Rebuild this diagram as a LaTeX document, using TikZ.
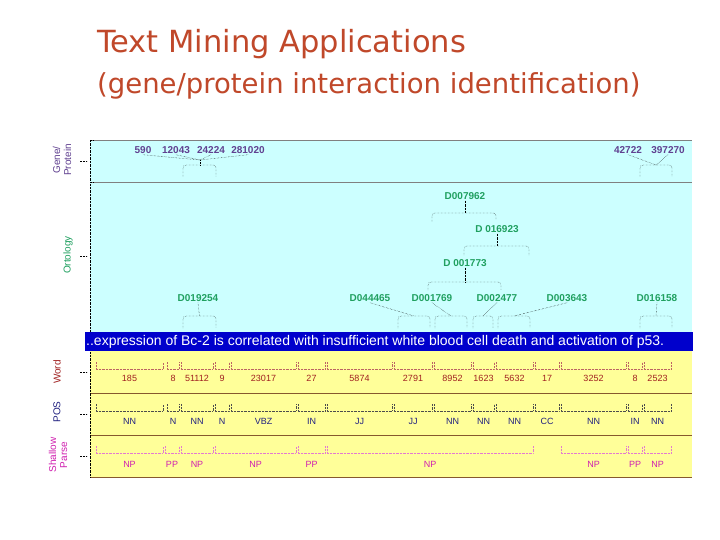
\documentclass[tikz,border=0pt]{standalone}
\usepackage{fontspec}
\setmainfont{Liberation Sans}
\newfontfamily\titlefont{DejaVu Sans}
\begin{document}
\begin{tikzpicture}[x=1pt,y=-1pt,
  ttl/.style={anchor=base west,text=titlec,inner sep=0},
  ont/.style={text=ontc,font=\bfseries\fontsize{10}{11}\selectfont,inner sep=1pt},
  gen/.style={text=genc,font=\bfseries\fontsize{10}{11}\selectfont,inner sep=1pt},
  lnk/.style={densely dotted,thin},
  wrd/.style={text=wordc,font=\fontsize{9}{10}\selectfont,inner sep=0},
  postag/.style={text=posc,font=\fontsize{9}{10}\selectfont,inner sep=0},
  prs/.style={text=prsc,font=\fontsize{9}{10}\selectfont,inner sep=0},
  side/.style={rotate=90,font=\fontsize{10}{11}\selectfont,align=center,inner sep=0}]
\definecolor{titlec}{HTML}{C0482A}
\definecolor{ontc}{HTML}{20A060}
\definecolor{genc}{HTML}{604090}
\definecolor{wordc}{HTML}{A02020}
\definecolor{posc}{HTML}{202080}
\definecolor{prsc}{HTML}{D020B0}
\definecolor{cyanbg}{HTML}{CCFFFF}
\definecolor{yelbg}{HTML}{FFFF99}
\definecolor{barc}{HTML}{0000CC}
\useasboundingbox (0,0) rectangle (720,540);
\fill[white] (0,0) rectangle (720,540);
% title
\node[ttl,font=\titlefont\fontsize{30.5}{34}\selectfont] (t1) at (97,53) {Text Mining Applications};
\node[ttl,font=\titlefont\fontsize{27.5}{31}\selectfont] (t2) at (97,94) {(gene/protein interaction identification)};
% panels
\fill[cyanbg] (90,140) rectangle (692,334);
\draw[gray,thick] (90,140) -- (692,140);
\draw[gray,thick] (90,182) -- (692,182);
\draw[densely dotted] (93,182) -- (90,182) -- (90,140) -- (93,140);
\draw[densely dotted] (90,184) -- (90,333);
\fill[yelbg] (90,351) rectangle (692,478);
\foreach \y in {393,435,477} \draw[brown!70!black] (90,\y) -- (692,\y);
\draw[densely dotted] (90,352) -- (90,477);
\node[fill=barc,minimum width=608pt,minimum height=19pt,inner sep=0,anchor=north west] (bar) at (85,332) {};
\node[anchor=west,text=white,font=\fontsize{14}{16}\selectfont,inner sep=0] (sent) at (86,341.5) {..expression of Bc-2 is correlated with insufficient white blood cell death and activation of p53.};
% side labels
\node[side,text=genc] (lg) at (62,160) {Gene/\\Protein};
\node[side,text=ontc] (lo) at (68,255) {Ortology};
\node[side,text=wordc] (lw) at (57,372) {Word};
\node[side,text=posc] (lp) at (57,412) {POS};
\node[side,text=prsc] (ls) at (58,455) {Shallow\\Parse};
\foreach \y in {161,256,372,414,456} \draw[densely dotted] (80,\y) -- (87,\y);
% token rows
\foreach \a/\b/\w/\p in {95/164/185/NN,166/180/8/N,180/214/51112/NN,214/230/9/N,230/297/23017/VBZ,297/326/27/IN,326/393/5874/JJ,393/433/2791/JJ,433/472/8952/NN,472/495/1623/NN,495/534/5632/NN,534/560/17/CC,560/627/3252/NN,627/643/8/IN,643/672/2523/NN}{
  \draw[densely dotted,wordc!70] (\a+1,362) -- (\a+1,369) -- (\b-1,369) -- (\b-1,362);
  \node[wrd] at ({(\a+\b)/2},378) {\w};
  \draw[densely dotted,black!70] (\a+1,404) -- (\a+1,411) -- (\b-1,411) -- (\b-1,404);
  \node[postag] at ({(\a+\b)/2},421) {\p};
}
\foreach \a/\b/\p in {95/164/NP,164/180/PP,180/214/NP,214/297/NP,297/326/PP,326/534/NP,560/627/NP,627/643/PP,643/672/NP}{
  \draw[densely dotted,prsc!60] (\a+1,446) -- (\a+1,453) -- (\b-1,453) -- (\b-1,446);
  \node[prs] at ({(\a+\b)/2},464) {\p};
}
% gene brackets
\draw[lnk,rounded corners=3pt] (183,177) -- (183,165) -- (216,165) -- (216,177);
\draw[lnk] (200,165) -- (200,160);
\coordinate (gc1) at (200,160);
\node[gen] (g1) at (143,150) {590};
\node[gen] (g2) at (176,150) {12043};
\node[gen] (g3) at (211,150) {24224};
\node[gen] (g4) at (248,150) {281020};
\foreach \g in {g1,g2,g3,g4} \draw[lnk] (\g.south) -- (gc1);
\draw[lnk,rounded corners=3pt] (640,177) -- (640,165) -- (672,165) -- (672,177);
\coordinate (gc2) at (656,165);
\node[gen] (g5) at (628,150) {42722};
\node[gen] (g6) at (668,150) {397270};
\draw[lnk] (g5.south) -- (gc2);
\draw[lnk] (g6.south) -- (gc2);
% ontology tree
\node[ont] (o1) at (465,196) {D007962};
\node[ont] (o2) at (497,229) {D 016923};
\node[ont] (o3) at (465,263) {D 001773};
\draw[lnk,rounded corners=3pt] (432,222) -- (432,213) -- (496,213) -- (496,220);
\draw[lnk] (o1.south) -- (465,213);
\draw[lnk,rounded corners=3pt] (464,255) -- (464,246) -- (529,246) -- (529,255);
\draw[lnk] (o2.south) -- (497,246);
\draw[lnk,rounded corners=3pt] (428,290) -- (428,282) -- (501,282) -- (501,290);
\draw[lnk] (o3.south) -- (465,282);
\foreach \n/\lx/\a/\b in {l1/198/183/216,l2/370/398/430,l3/432/435/467,l4/497/473/493,l5/567/498/530,l6/657/640/672}{
  \draw[lnk,rounded corners=3pt] (\a,328) -- (\a,316) -- (\b,316) -- (\b,328);
  \coordinate (\n c) at ({(\a+\b)/2},316);
}
\node[ont] (l1) at (198,298) {D019254};
\node[ont] (l2) at (370,298) {D044465};
\node[ont] (l3) at (432,298) {D001769};
\node[ont] (l4) at (497,298) {D002477};
\node[ont] (l5) at (567,298) {D003643};
\node[ont] (l6) at (657,298) {D016158};
\foreach \n in {l1,l2,l3,l4,l5,l6} \draw[lnk] (\n.south) -- (\n c);
\end{tikzpicture}
\end{document}
